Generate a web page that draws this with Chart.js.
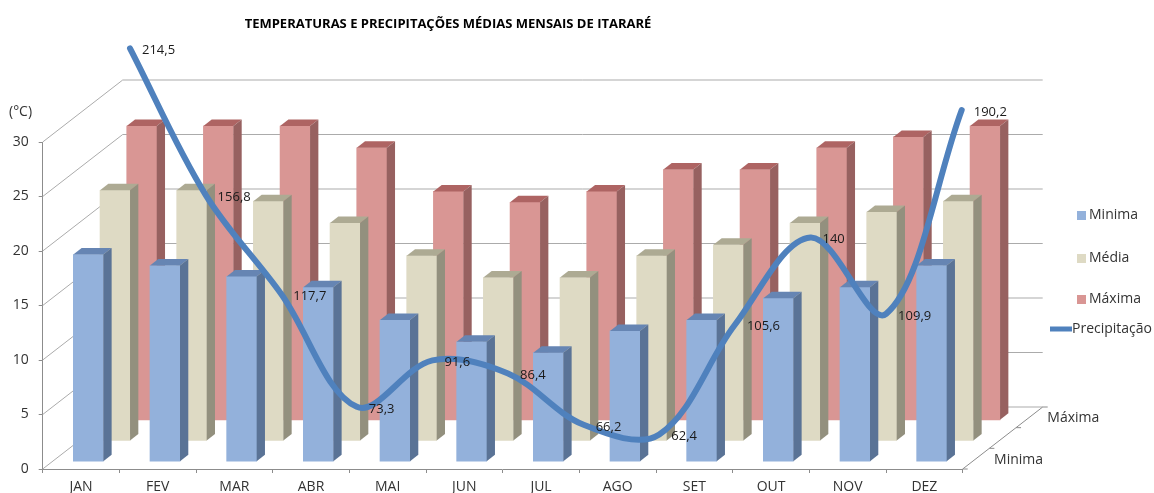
<!DOCTYPE html>
<html><head><meta charset="utf-8">
<script src="https://cdn.jsdelivr.net/npm/chart.js@4/dist/chart.umd.min.js"></script>
<style>html,body{margin:0;padding:0;background:#fff;overflow:hidden}</style>
</head><body>
<canvas id="c" width="1154" height="493"></canvas>
<script>
// ---- data ----
const months = ['JAN','FEV','MAR','ABR','MAI','JUN','JUL','AGO','SET','OUT','NOV','DEZ'];
const minima = [19,18,17,16,13,11,10,12,13,15,16,18];
const media  = [23,23,22,20,17,15,15,17,18,20,21,22];
const maxima = [27,27,27,25,21,20,21,23,23,25,26,27];
const precipitacao = [214.5,156.8,117.7,73.3,91.6,86.4,66.2,62.4,105.6,140,109.9,190.2];
const tempTicks = [0,5,10,15,20,25,30];
const seriesNames = ['Minima','Média','Máxima','Precipitação'];
const depthLabels = ['Minima','Máxima'];
const chartTitle = 'TEMPERATURAS E PRECIPITAÇÕES MÉDIAS MENSAIS DE ITARARÉ';
const unitLabel = '(°C)';

// ---- style / geometry ----
const FONT = "'Open Sans', 'DejaVu Sans', sans-serif";
const WALL = {dx: 80, dy: -62};
const ROW_OFFSETS = [[7.3,-7.3],[34,-28],[60.7,-48.7]];
const BAR_DEPTH = {dx: 8.3, dy: -6.5};
const FACES = [
  {front:'#93B1DB', top:'#6685B3', side:'#5A7396'},
  {front:'#DEDAC4', top:'#ADAA93', side:'#93907E'},
  {front:'#D99694', top:'#AE6463', side:'#976160'}
];
const LINE_COLOR = '#4F81BD';
const GRID = '#ababab';

function fmt(v){ return String(v).replace('.', ','); }

const threeD = {
  id: 'threeD',
  beforeDatasetsDraw(chart) {
    const ctx = chart.ctx, a = chart.chartArea, y = chart.scales.y;
    ctx.save();
    ctx.strokeStyle = GRID; ctx.lineWidth = 1;
    tempTicks.forEach(v => {
      const py = y.getPixelForValue(v);
      ctx.beginPath();
      ctx.moveTo(a.left, py);
      ctx.lineTo(a.left + WALL.dx, py + WALL.dy);
      ctx.lineTo(a.right + WALL.dx, py + WALL.dy);
      ctx.stroke();
    });
    // depth axis (right floor edge)
    ctx.strokeStyle = '#8c8c8c';
    ctx.beginPath();
    ctx.moveTo(a.right, a.bottom);
    ctx.lineTo(a.right + WALL.dx, a.bottom + WALL.dy);
    ctx.stroke();
    for (let k = 0; k <= 3; k++) {
      const px = a.right + WALL.dx * k / 3, py = a.bottom + WALL.dy * k / 3;
      ctx.beginPath(); ctx.moveTo(px, py); ctx.lineTo(px + 5, py); ctx.stroke();
    }
    ctx.restore();
  },
  beforeDatasetDraw(chart, args) {
    const i = args.index;
    if (i > 2) return;
    chart.ctx.save();
    chart.ctx.translate(ROW_OFFSETS[i][0], ROW_OFFSETS[i][1]);
  },
  afterDatasetDraw(chart, args) {
    const i = args.index;
    if (i > 2) return;
    const ctx = chart.ctx, f = FACES[i];
    args.meta.data.forEach(bar => {
      const p = bar.getProps(['x','y','base','width'], true);
      const x1 = p.x - p.width/2, x2 = p.x + p.width/2;
      const dx = BAR_DEPTH.dx, dy = BAR_DEPTH.dy;
      ctx.fillStyle = f.top;
      ctx.beginPath();
      ctx.moveTo(x1, p.y); ctx.lineTo(x1+dx, p.y+dy); ctx.lineTo(x2+dx, p.y+dy); ctx.lineTo(x2, p.y);
      ctx.closePath(); ctx.fill();
      ctx.fillStyle = f.side;
      ctx.beginPath();
      ctx.moveTo(x2, p.y); ctx.lineTo(x2+dx, p.y+dy); ctx.lineTo(x2+dx, p.base+dy); ctx.lineTo(x2, p.base);
      ctx.closePath(); ctx.fill();
    });
    ctx.restore();
  },
  afterDatasetsDraw(chart) {
    const ctx = chart.ctx;
    const meta = chart.getDatasetMeta(3);
    ctx.save();
    ctx.font = '13px ' + FONT; ctx.fillStyle = '#1a1a1a';
    ctx.textAlign = 'left'; ctx.textBaseline = 'middle';
    meta.data.forEach((pt, j) => {
      ctx.fillText(fmt(precipitacao[j]), pt.x + 12, pt.y + 2);
    });
    ctx.restore();
  },
  afterDraw(chart) {
    const ctx = chart.ctx, a = chart.chartArea;
    ctx.save();
    // title
    ctx.font = 'bold 13px ' + FONT; ctx.fillStyle = '#000';
    ctx.textAlign = 'center'; ctx.textBaseline = 'middle';
    ctx.fillText(chartTitle, 448, 24);
    // unit
    ctx.font = '14px ' + FONT; ctx.fillStyle = '#333';
    ctx.textAlign = 'left';
    ctx.fillText(unitLabel, 9, 112);
    // depth labels
    const rows = [1/6, 5/6];
    depthLabels.forEach((t, k) => {
      const px = a.right + WALL.dx * rows[k], py = a.bottom + WALL.dy * rows[k];
      ctx.fillText(t, px + 18, py + 1);
    });
    // legend
    const ly = [215.5, 258.5, 299.5];
    for (let k = 0; k < 3; k++) {
      ctx.fillStyle = FACES[k].front;
      ctx.fillRect(1077, ly[k] - 4.5, 9, 9);
      ctx.fillStyle = '#333';
      ctx.fillText(seriesNames[k], 1089, ly[k]);
    }
    ctx.strokeStyle = LINE_COLOR; ctx.lineWidth = 5;
    ctx.beginPath(); ctx.moveTo(1050, 329); ctx.lineTo(1072, 329); ctx.stroke();
    ctx.fillStyle = '#333';
    ctx.fillText(seriesNames[3], 1072, 329);
    ctx.restore();
  }
};

const barDs = (label, data, k) => ({
  type: 'bar', label, data, order: k + 1, xAxisID: 'x', yAxisID: 'y',
  backgroundColor: FACES[k].front, borderWidth: 0, grouped: false,
  barThickness: 30, clip: false
});

new Chart(document.getElementById('c'), {
  type: 'bar',
  data: {
    labels: months,
    datasets: [
      barDs(seriesNames[0], minima, 0),
      barDs(seriesNames[1], media, 1),
      barDs(seriesNames[2], maxima, 2),
      {
        type: 'line', label: seriesNames[3], order: 0,
        data: precipitacao.map((v, i) => ({x: i, y: v})),
        xAxisID: 'xLine', yAxisID: 'yLine',
        borderColor: LINE_COLOR, borderWidth: 6, pointRadius: 0,
        tension: 0.35, capBezierPoints: false, borderCapStyle: 'round',
        fill: false, clip: false
      }
    ]
  },
  options: {
    responsive: false, animation: false, devicePixelRatio: 1,
    layout: {padding: {top: 142, right: 191.3, left: 0, bottom: 0}},
    plugins: {legend: {display: false}, tooltip: {enabled: false}, title: {display: false}},
    scales: {
      x: {
        type: 'category', offset: true,
        grid: {drawOnChartArea: false, drawTicks: true, tickLength: 4, color: '#8c8c8c', offset: true},
        border: {display: true, color: '#8c8c8c'},
        ticks: {font: {family: FONT, size: 14}, color: '#333', padding: 6, maxRotation: 0},
        afterFit: s => { s.height = 24; }
      },
      y: {
        type: 'linear', min: 0, max: 30,
        grid: {drawOnChartArea: false, drawTicks: true, tickLength: 4, color: '#8c8c8c'},
        border: {display: true, color: '#8c8c8c'},
        ticks: {stepSize: 5, font: {family: FONT, size: 14}, color: '#333', padding: 10},
        afterFit: s => { s.width = 42.7; }
      },
      xLine: {type: 'linear', display: false, offset: false, grid: {offset: false}, bounds: 'data', min: -1.1546, max: 11.013},
      yLine: {type: 'linear', display: false, min: 48.8, max: 177.6}
    }
  },
  plugins: [threeD]
});
</script>
</body></html>
